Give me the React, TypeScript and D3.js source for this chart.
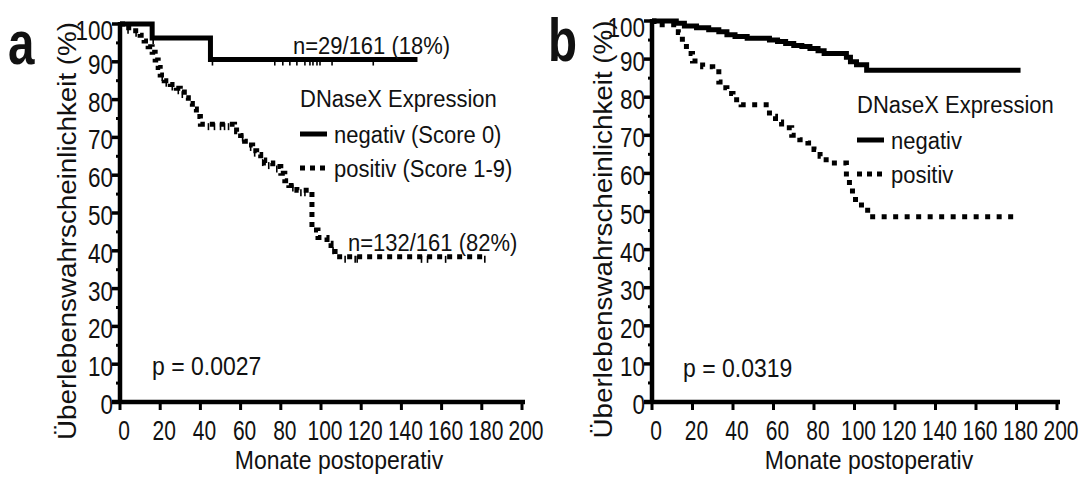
import React from "react";
import * as d3 from "d3";

const FONT = "'Liberation Sans', Arial, Helvetica, sans-serif";

// ---------- data ----------
const xTicks = [0, 20, 40, 60, 80, 100, 120, 140, 160, 180, 200];
const yTicks = [0, 10, 20, 30, 40, 50, 60, 70, 80, 90, 100];
const yMinorTicks = [5, 15, 25, 35, 45, 55, 65, 75, 85, 95];

// Panel a – negativ (Score 0)
const aNegTimes = [0, 16, 45, 148];
const aNegSurv = [100, 96.3, 90.6, 90.6];
const aNegCensor = [16.5, 46, 77, 81, 84.5, 88, 92, 94.5, 96, 98, 99.5, 105.5, 126];

// Panel a – positiv (Score 1-9)
const aPosTimes = [0, 3, 6, 10, 12, 14, 16, 17.5, 19, 20, 22, 25, 28, 30, 32, 34, 36, 38, 40, 57, 58, 60, 62, 64, 66, 68, 70, 72, 76, 80, 82, 84, 88, 95.5, 98.5, 103, 105, 107, 182];
const aPosSurv = [100, 99, 98.2, 97, 95.5, 94, 92.5, 90.5, 88.5, 86.5, 85, 84, 83, 82, 80.5, 79, 77.5, 75.5, 73.5, 73, 71.5, 70.5, 69, 68, 66.5, 65.5, 64, 63.2, 62.3, 60.5, 58.5, 57.3, 56, 45.5, 43.5, 42, 40.7, 38.4, 38.4];
const aPosCensor = [4, 8, 21, 23, 26, 29, 31, 44, 47, 50, 52, 54, 61, 65, 67, 71, 74, 78, 86, 90, 92, 106, 112, 117, 118, 150, 153, 162, 181.5];

// Panel b – negativ
const bNegTimes = [0, 12, 16, 22, 28, 33, 37, 41, 47, 58, 62, 66, 70, 74, 78, 82, 85, 96, 98, 101, 106, 182];
const bNegSurv = [100, 99.4, 98.7, 98.2, 97.7, 97.2, 96.4, 95.9, 95.5, 95.0, 94.6, 94.1, 93.6, 93.3, 92.8, 92.2, 91.5, 90.5, 89.3, 88.5, 87.1, 87.1];

// Panel b – positiv
const bPosTimes = [0, 1, 13, 15, 17, 20, 25, 30, 33, 35, 37, 40, 44, 58, 61, 64, 69, 73, 77, 80, 83, 86, 96, 97.5, 99, 100.5, 106.5, 181];
const bPosSurv = [100, 99, 97, 94.5, 91.5, 89.5, 88, 86.7, 84, 82.5, 81, 79.3, 78, 75, 73.5, 72, 70, 68.8, 68, 66.3, 64.5, 62.7, 59.1, 56.5, 54.5, 51.7, 48.6, 48.6];

const yTitle = "Überlebenswahrscheinlichkeit (%)";
const xTitle = "Monate postoperativ";
const legendTitle = "DNaseX Expression";

type Pt = [number, number];
const zip = (t: number[], s: number[]): Pt[] => t.map((v, i) => [v, s[i]]);
const survAt = (t: number[], s: number[], x: number) => {
  const i = d3.bisectRight(t, x) - 1;
  return s[Math.max(0, i)];
};

function T(props: {
  x: number;
  y: number;
  fs: number;
  sx?: number;
  sy?: number;
  anchor?: "start" | "middle" | "end";
  weight?: string;
  children: React.ReactNode;
}) {
  const { x, y, fs, sx = 1, sy = 1.12, anchor = "start", weight } = props;
  return (
    <text
      transform={`translate(${x},${y}) scale(${sx},${sy})`}
      fontSize={fs}
      textAnchor={anchor}
      fontWeight={weight}
    >
      {props.children}
    </text>
  );
}

type PanelProps = {
  axisX: number;
  endX: number;
  top: number;
  bottom: number;
  letter: string;
  letterX: number;
  titleX: number;
  neg: Pt[];
  pos: Pt[];
  negCensor?: number[];
  posCensor?: number[];
  negT?: number[];
  negS?: number[];
  posT?: number[];
  posS?: number[];
  legendX: number;
  legendY: number;
  negLabel: string;
  posLabel: string;
  pText: string;
  pX: number;
  pY: number;
  dash: string;
  xTitleX: number;
  annotations?: { text: string; x: number; y: number }[];
};

function Panel(p: PanelProps) {
  const x = d3.scaleLinear().domain([0, 200]).range([p.axisX, p.endX]);
  const y = d3.scaleLinear().domain([0, 100]).range([p.bottom, p.top]);
  const line = d3
    .line<Pt>()
    .x((d) => x(d[0]))
    .y((d) => y(d[1]))
    .curve(d3.curveStepAfter);
  return (
    <g fontFamily={FONT} fill="#111">
      <T x={p.letterX} y={p.top + 40} fs={58} sx={0.82} sy={1.05} weight="bold">
        {p.letter}
      </T>
      <text
        transform={`translate(${p.titleX},${(p.top + p.bottom) / 2 + 18}) rotate(-90)`}
        textAnchor="middle"
        fontSize={26}
        textLength={418}
        lengthAdjust="spacingAndGlyphs"
      >
        {yTitle}
      </text>
      {/* y ticks */}
      {yTicks.map((t) => (
        <g key={"y" + t}>
          <line x1={p.axisX - 8} x2={p.axisX} y1={y(t)} y2={y(t)} stroke="#000" strokeWidth={3.5} />
          <T x={p.axisX - 7} y={y(t) + 9 + (t === 100 ? 7 : 3)} fs={25} sx={0.9} anchor="end">
            {t}
          </T>
        </g>
      ))}
      {yMinorTicks.map((t) => (
        <line key={"ym" + t} x1={p.axisX - 4} x2={p.axisX} y1={y(t)} y2={y(t)} stroke="#000" strokeWidth={3} />
      ))}
      {/* x ticks */}
      {xTicks.map((t) => (
        <g key={"x" + t}>
          <line x1={x(t)} x2={x(t)} y1={p.bottom} y2={p.bottom + 8} stroke="#000" strokeWidth={3} />
          <T x={x(t) + 4} y={p.bottom + 38} fs={25} sx={0.84} anchor="middle">
            {t}
          </T>
        </g>
      ))}
      {/* axes */}
      <line x1={p.axisX} x2={p.axisX} y1={p.top - 2} y2={p.bottom + 2} stroke="#000" strokeWidth={4.5} />
      <line x1={p.axisX - 8} x2={p.endX + 3} y1={p.bottom} y2={p.bottom} stroke="#000" strokeWidth={4.5} />
      <T x={p.xTitleX} y={p.bottom + 67} fs={23} anchor="middle">
        {xTitle}
      </T>
      {/* curves */}
      <path d={line(p.neg) || ""} fill="none" stroke="#000" strokeWidth={5} />
      <path d={line(p.pos) || ""} fill="none" stroke="#000" strokeWidth={5} strokeDasharray={p.dash} />
      {p.negCensor &&
        p.negT &&
        p.negS &&
        p.negCensor.map((c, i) => {
          const yy = y(survAt(p.negT!, p.negS!, c));
          return <line key={"nc" + i} x1={x(c)} x2={x(c)} y1={yy} y2={yy + 6} stroke="#000" strokeWidth={1.6} />;
        })}
      {p.posCensor &&
        p.posT &&
        p.posS &&
        p.posCensor.map((c, i) => {
          const yy = y(survAt(p.posT!, p.posS!, c));
          return <line key={"pc" + i} x1={x(c)} x2={x(c)} y1={yy - 1} y2={yy + 6} stroke="#000" strokeWidth={1.6} />;
        })}
      {/* legend */}
      <T x={p.legendX} y={p.legendY} fs={22}>
        {legendTitle}
      </T>
      <line x1={p.legendX} x2={p.legendX + 27} y1={p.legendY + 27} y2={p.legendY + 27} stroke="#000" strokeWidth={5} />
      <T x={p.legendX + 34} y={p.legendY + 36} fs={22}>
        {p.negLabel}
      </T>
      <line
        x1={p.legendX}
        x2={p.legendX + 27}
        y1={p.legendY + 61}
        y2={p.legendY + 61}
        stroke="#000"
        strokeWidth={5}
        strokeDasharray="5 5"
      />
      <T x={p.legendX + 34} y={p.legendY + 70} fs={22}>
        {p.posLabel}
      </T>
      {p.annotations?.map((a, i) => (
        <T key={"an" + i} x={a.x} y={a.y} fs={22}>
          {a.text}
        </T>
      ))}
      <T x={p.pX} y={p.pY} fs={23}>
        {p.pText}
      </T>
    </g>
  );
}

export default function App() {
  return (
    <svg width={1084} height={479} style={{ display: "block", position: "absolute", left: 0, top: 0, background: "#fff" }}>
      <rect width={1084} height={479} fill="#fff" />
      <Panel
        axisX={120}
        endX={522}
        top={24}
        bottom={402}
        letter="a"
        letterX={8}
        titleX={76}
        neg={zip(aNegTimes, aNegSurv)}
        pos={zip(aPosTimes, aPosSurv)}
        negCensor={aNegCensor}
        posCensor={aPosCensor}
        negT={aNegTimes}
        negS={aNegSurv}
        posT={aPosTimes}
        posS={aPosSurv}
        legendX={300}
        legendY={107}
        negLabel="negativ (Score 0)"
        posLabel="positiv (Score 1-9)"
        pText="p = 0.0027"
        pX={152}
        pY={375}
        dash="5 5"
        xTitleX={339}
        annotations={[
          { text: "n=29/161 (18%)", x: 293, y: 54 },
          { text: "n=132/161 (82%)", x: 348, y: 251 },
        ]}
      />
      <Panel
        axisX={652}
        endX={1057}
        top={21}
        bottom={402}
        letter="b"
        letterX={548}
        titleX={612}
        neg={zip(bNegTimes, bNegSurv)}
        pos={zip(bPosTimes, bPosSurv)}
        legendX={857}
        legendY={113}
        negLabel="negativ"
        posLabel="positiv"
        pText="p = 0.0319"
        pX={683}
        pY={377}
        dash="5 6.5"
        xTitleX={869}
      />
    </svg>
  );
}
